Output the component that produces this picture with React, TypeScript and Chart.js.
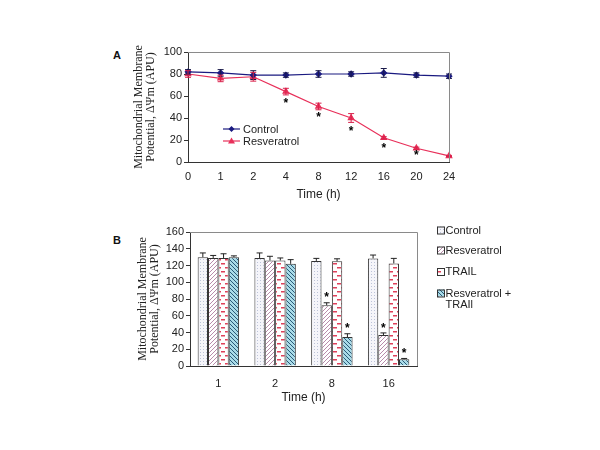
import { useEffect, useRef } from "react"
import { Chart, registerables } from "chart.js"

Chart.register(...registerables)

// Panel A: time course (h)
const timeA = ["0", "1", "2", "4", "8", "12", "16", "20", "24"]
const controlA = [82, 81, 79, 79, 80, 80, 81, 79, 78]
const controlErrA = [2, 3, 4, 2, 3, 2, 4, 2, 2]
const resvA = [80, 76, 77.5, 64, 50.5, 40, 22, 12.5, 5.5]
const resvErrA = [3, 3, 4, 3, 3, 4, 1, 1, 0.5]
// y position of the significance stars under the resveratrol line
const starsA = [null, null, null, 55, 42, 29, 14, 8, null]

// Panel B: bars per time point
const timeB = ["1", "2", "8", "16"]
const seriesB = ["Control", "Resveratrol", "TRAIL", "Resveratrol + TRAIl"]
const controlB = [130, 129, 125.5, 128.5]
const controlErrB = [5, 6, 3, 4]
const resvB = [129, 126, 72.5, 37]
const resvErrB = [3, 5, 3, 2.5]
const trailB = [129, 126, 125, 122.5]
const trailErrB = [5, 3, 3, 6]
const comboB = [130, 122, 34.5, 8]
const comboErrB = [1.5, 5, 4, 1]
const resvStarsB = [null, null, 84, 47]
const comboStarsB = [null, null, 47, 17]

const yTitle = ["Mitochondrial Membrane", "Potential, \u0394\u03A8m (APU)"]
const axisColor = "#333"
const sans = "'Liberation Sans', Arial, sans-serif"
const serif = "'Liberation Serif', 'Times New Roman', serif"

function makePattern(kind: string): CanvasPattern | string {
  const c = document.createElement("canvas")
  const g = c.getContext("2d")
  if (!g) return "#fff"
  if (kind === "dots") {
    c.width = 3
    c.height = 3
    g.fillStyle = "#f5f5fa"
    g.fillRect(0, 0, 3, 3)
    g.fillStyle = "#bcc3d8"
    g.fillRect(1, 1, 1, 1)
  } else if (kind === "hatch") {
    c.width = 4
    c.height = 4
    g.fillStyle = "#fff"
    g.fillRect(0, 0, 4, 4)
    g.strokeStyle = "#b07fa2"
    g.lineWidth = 0.9
    g.beginPath()
    g.moveTo(0, 4)
    g.lineTo(4, 0)
    g.moveTo(-1, 1)
    g.lineTo(1, -1)
    g.moveTo(3, 5)
    g.lineTo(5, 3)
    g.stroke()
  } else if (kind === "dashes") {
    c.width = 8
    c.height = 8
    g.fillStyle = "#fff"
    g.fillRect(0, 0, 8, 8)
    g.fillStyle = "#e0405a"
    g.fillRect(1, 1, 4, 1.5)
    g.fillRect(5, 5, 3, 1.5)
    g.fillRect(0, 5, 1, 1.5)
  } else {
    c.width = 4
    c.height = 4
    g.fillStyle = "#a9dbe8"
    g.fillRect(0, 0, 4, 4)
    g.strokeStyle = "#2a5a78"
    g.lineWidth = 1
    g.beginPath()
    g.moveTo(0, 0)
    g.lineTo(4, 4)
    g.moveTo(-1, 3)
    g.lineTo(1, 5)
    g.moveTo(3, -1)
    g.lineTo(5, 1)
    g.stroke()
  }
  return g.createPattern(c, "repeat") || "#fff"
}

// gray frame on the top and right of the plot area
const frameTopRight = {
  id: "frameTopRight",
  afterDraw(chart: Chart) {
    const { ctx, chartArea: a } = chart
    ctx.save()
    ctx.strokeStyle = "#8a8a8a"
    ctx.lineWidth = 1
    ctx.beginPath()
    ctx.moveTo(a.left, a.top + 0.5)
    ctx.lineTo(a.right + 0.5, a.top + 0.5)
    ctx.lineTo(a.right + 0.5, a.bottom)
    ctx.stroke()
    ctx.restore()
  },
}

function drawStar(ctx: CanvasRenderingContext2D, x: number, y: number) {
  ctx.save()
  ctx.fillStyle = "#000"
  ctx.font = `bold 12px ${sans}`
  ctx.textAlign = "center"
  ctx.textBaseline = "middle"
  ctx.fillText("*", x, y + 2)
  ctx.restore()
}

function LineChartA() {
  const ref = useRef<HTMLCanvasElement>(null)

  useEffect(() => {
    if (!ref.current) return
    const errs = [controlErrA, resvErrA]

    const extras = {
      id: "extrasA",
      afterDatasetsDraw(chart: Chart) {
        const { ctx } = chart
        const y = chart.scales.y
        chart.data.datasets.forEach((ds, i) => {
          const meta = chart.getDatasetMeta(i)
          ctx.save()
          ctx.strokeStyle = i === 0 ? "#1a1a4a" : "#d8204a"
          ctx.lineWidth = 1
          ;(ds.data as number[]).forEach((v, j) => {
            const x = meta.data[j].x
            const top = y.getPixelForValue(v + errs[i][j])
            const bot = y.getPixelForValue(v - errs[i][j])
            ctx.beginPath()
            ctx.moveTo(x, top)
            ctx.lineTo(x, bot)
            ctx.moveTo(x - 3, top)
            ctx.lineTo(x + 3, top)
            ctx.moveTo(x - 3, bot)
            ctx.lineTo(x + 3, bot)
            ctx.stroke()
          })
          ctx.restore()
        })
        const meta1 = chart.getDatasetMeta(1)
        starsA.forEach((s, j) => {
          if (s === null) return
          drawStar(ctx, meta1.data[j].x, y.getPixelForValue(s))
        })

        // legend inside the plot
        const items = [
          { label: "Control", color: "#1a1a80", style: "rectRot", yy: 89 },
          { label: "Resveratrol", color: "#e8305a", style: "triangle", yy: 101 },
        ]
        items.forEach((it) => {
          ctx.save()
          ctx.strokeStyle = it.color
          ctx.lineWidth = 1.2
          ctx.beginPath()
          ctx.moveTo(123, it.yy)
          ctx.lineTo(140, it.yy)
          ctx.stroke()
          ctx.fillStyle = it.color
          ctx.beginPath()
          if (it.style === "rectRot") {
            ctx.moveTo(131.5, it.yy - 3)
            ctx.lineTo(134.5, it.yy)
            ctx.lineTo(131.5, it.yy + 3)
            ctx.lineTo(128.5, it.yy)
          } else {
            ctx.moveTo(131.5, it.yy - 3.5)
            ctx.lineTo(135, it.yy + 2.5)
            ctx.lineTo(128, it.yy + 2.5)
          }
          ctx.closePath()
          ctx.fill()
          ctx.fillStyle = "#222"
          ctx.font = `11px ${sans}`
          ctx.textAlign = "left"
          ctx.textBaseline = "middle"
          ctx.fillText(it.label, 143, it.yy + 0.5)
          ctx.restore()
        })
      },
    }

    const chart = new Chart(ref.current, {
      type: "line",
      data: {
        labels: timeA,
        datasets: [
          {
            label: "Control",
            data: controlA,
            borderColor: "#1a1a80",
            backgroundColor: "#1a1a80",
            borderWidth: 1.2,
            pointStyle: "rectRot",
            pointRadius: 2.8,
            tension: 0,
          },
          {
            label: "Resveratrol",
            data: resvA,
            borderColor: "#e8305a",
            backgroundColor: "#e8305a",
            borderWidth: 1.2,
            pointStyle: "triangle",
            pointRadius: 3.2,
            tension: 0,
          },
        ],
      },
      options: {
        responsive: true,
        maintainAspectRatio: false,
        animation: false,
        layout: { padding: { left: 33, right: 21, top: 12, bottom: 8 } },
        plugins: { legend: { display: false }, tooltip: { enabled: false } },
        scales: {
          x: {
            type: "category",
            offset: false,
            afterFit: (s: any) => {
              s.height = 40
            },
            grid: { drawOnChartArea: false, drawTicks: false },
            border: { color: axisColor },
            ticks: { padding: 8, color: "#222", font: { family: sans, size: 11 } },
            title: {
              display: true,
              text: "Time (h)",
              color: "#222",
              padding: 0,
              font: { family: sans, size: 12 },
            },
          },
          y: {
            min: 0,
            max: 100,
            afterFit: (s: any) => {
              s.width = 55
            },
            grid: { drawOnChartArea: false, tickLength: 4, color: axisColor },
            border: { color: axisColor },
            ticks: { stepSize: 20, padding: 2, color: "#222", font: { family: sans, size: 11 } },
            title: {
              display: true,
              text: yTitle,
              color: "#222",
              padding: 0,
              font: { family: serif, size: 12, lineHeight: 1 },
            },
          },
        },
      },
      plugins: [frameTopRight, extras],
    })

    return () => chart.destroy()
  }, [])

  return (
    <div style={{ position: "absolute", left: 100, top: 40, width: 370, height: 170 }}>
      <canvas ref={ref} aria-label="Panel A" />
    </div>
  )
}

function BarChartB() {
  const ref = useRef<HTMLCanvasElement>(null)

  useEffect(() => {
    if (!ref.current) return
    const fills = [makePattern("dots"), makePattern("hatch"), makePattern("dashes"), makePattern("stripes")]
    const errs = [controlErrB, resvErrB, trailErrB, comboErrB]
    const stars: Record<number, (number | null)[]> = { 1: resvStarsB, 3: comboStarsB }

    const extras = {
      id: "extrasB",
      afterDatasetsDraw(chart: Chart) {
        const { ctx } = chart
        const y = chart.scales.y
        chart.data.datasets.forEach((ds, i) => {
          const meta = chart.getDatasetMeta(i)
          ctx.save()
          ctx.strokeStyle = "#222"
          ctx.lineWidth = 1
          ;(ds.data as number[]).forEach((v, j) => {
            const x = meta.data[j].x
            const top = y.getPixelForValue(v + errs[i][j])
            const base = y.getPixelForValue(v)
            ctx.beginPath()
            ctx.moveTo(x, base)
            ctx.lineTo(x, top)
            ctx.moveTo(x - 3, top)
            ctx.lineTo(x + 3, top)
            ctx.stroke()
          })
          ctx.restore()
          const st = stars[i]
          if (st) {
            st.forEach((s, j) => {
              if (s === null) return
              drawStar(ctx, meta.data[j].x, y.getPixelForValue(s))
            })
          }
        })
      },
      afterDraw(chart: Chart) {
        const { ctx } = chart
        const rows = [
          { lines: [seriesB[0]], yy: 8 },
          { lines: [seriesB[1]], yy: 28 },
          { lines: [seriesB[2]], yy: 49.5 },
          { lines: ["Resveratrol +", "TRAIl"], yy: 71 },
        ]
        rows.forEach((r, i) => {
          ctx.save()
          ctx.fillStyle = fills[i]
          ctx.fillRect(337, r.yy - 3.5, 7, 7)
          ctx.strokeStyle = "#333"
          ctx.lineWidth = 1
          ctx.strokeRect(337.5, r.yy - 3, 7, 7)
          ctx.fillStyle = "#222"
          ctx.font = `11px ${sans}`
          ctx.textAlign = "left"
          ctx.textBaseline = "middle"
          r.lines.forEach((t, k) => ctx.fillText(t, 345.5, r.yy + 0.5 + k * 11))
          ctx.restore()
        })
      },
    }

    const values = [controlB, resvB, trailB, comboB]
    const chart = new Chart(ref.current, {
      type: "bar",
      data: {
        labels: timeB,
        datasets: values.map((d, i) => ({
          label: seriesB[i],
          data: d,
          backgroundColor: fills[i],
          borderColor: "#333",
          borderWidth: 1,
          barPercentage: 1,
          categoryPercentage: 0.73,
        })),
      },
      options: {
        responsive: true,
        maintainAspectRatio: false,
        animation: false,
        layout: { padding: { left: 37, right: 183, top: 10, bottom: 2 } },
        plugins: { legend: { display: false }, tooltip: { enabled: false } },
        scales: {
          x: {
            afterFit: (s: any) => {
              s.height = 39
            },
            grid: { drawOnChartArea: false, drawTicks: false },
            border: { color: axisColor },
            ticks: { padding: 11, color: "#222", font: { family: sans, size: 11 } },
            title: {
              display: true,
              text: "Time (h)",
              color: "#222",
              padding: 0,
              font: { family: sans, size: 12 },
            },
          },
          y: {
            min: 0,
            max: 160,
            afterFit: (s: any) => {
              s.width = 53
            },
            grid: { drawOnChartArea: false, tickLength: 4, color: axisColor },
            border: { color: axisColor },
            ticks: { stepSize: 20, padding: 2, color: "#222", font: { family: sans, size: 11 } },
            title: {
              display: true,
              text: yTitle,
              color: "#222",
              padding: 0,
              font: { family: serif, size: 12, lineHeight: 1 },
            },
          },
        },
      },
      plugins: [frameTopRight, extras],
    })

    return () => chart.destroy()
  }, [])

  return (
    <div style={{ position: "absolute", left: 100, top: 222, width: 500, height: 185 }}>
      <canvas ref={ref} aria-label="Panel B" />
    </div>
  )
}

export default function App() {
  const panelLabel = { position: "absolute" as const, fontFamily: sans, fontWeight: 700, fontSize: 11, color: "#111" }
  return (
    <div style={{ position: "fixed", left: 0, top: 0, width: 600, height: 450, background: "#fff" }}>
      <span style={{ ...panelLabel, left: 113, top: 49 }}>A</span>
      <span style={{ ...panelLabel, left: 113, top: 234 }}>B</span>
      <LineChartA />
      <BarChartB />
    </div>
  )
}
